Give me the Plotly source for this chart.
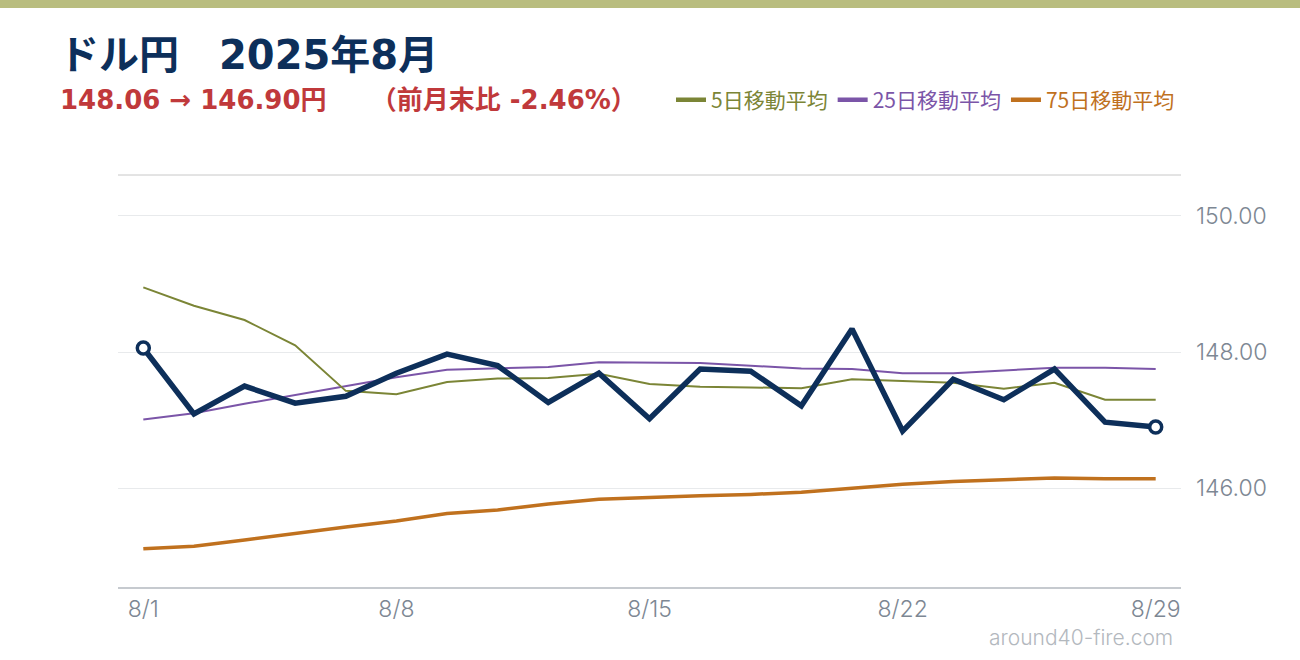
import plotly.graph_objects as go

dates = ["8/1", "8/4", "8/5", "8/6", "8/7", "8/8", "8/11", "8/12", "8/13", "8/14", "8/15",
         "8/18", "8/19", "8/20", "8/21", "8/22", "8/25", "8/26", "8/27", "8/28", "8/29"]
close = [148.06, 147.09, 147.50, 147.25, 147.35, 147.69, 147.97, 147.80, 147.26, 147.69, 147.02,
         147.75, 147.72, 147.21, 148.34, 146.84, 147.60, 147.30, 147.75, 146.97, 146.90]
ma5 = [148.95, 148.68, 148.47, 148.10, 147.43, 147.38, 147.56, 147.61, 147.62, 147.68, 147.53,
       147.49, 147.48, 147.47, 147.60, 147.57, 147.55, 147.46, 147.55, 147.30, 147.30]
ma25 = [147.01, 147.10, 147.24, 147.37, 147.51, 147.63, 147.74, 147.76, 147.78, 147.85, 147.84,
        147.84, 147.80, 147.76, 147.75, 147.69, 147.69, 147.73, 147.77, 147.77, 147.75]
ma75 = [145.11, 145.15, 145.24, 145.34, 145.43, 145.52, 145.63, 145.68, 145.77, 145.84, 145.87,
        145.89, 145.91, 145.94, 146.00, 146.06, 146.10, 146.12, 146.15, 146.14, 146.14]
x_ticks = ["8/1", "8/8", "8/15", "8/22", "8/29"]
y_ticks = [146, 148, 150]
ma_names = ["5日移動平均", "25日移動平均", "75日移動平均"]

title_text = "ドル円　2025年8月"
sub_text = "148.06 → 146.90円\u3000\u2002\u2009（前月末比 -2.46%）"
watermark = "around40-fire.com"

NAVY = "#0d2f5a"
OLIVE = "#7b8536"
PURPLE = "#7b55a8"
ORANGE = "#c0711e"
CJK = "Noto Sans CJK JP"
WIDE = "DejaVu Sans, Noto Sans CJK JP"
THIN = "Inter, Noto Sans CJK JP"

fig = go.Figure()
fig.add_trace(go.Scatter(x=dates, y=ma75, mode="lines", showlegend=False,
                         line=dict(color=ORANGE, width=3.5)))
fig.add_trace(go.Scatter(x=dates, y=ma25, mode="lines", showlegend=False,
                         line=dict(color=PURPLE, width=2)))
fig.add_trace(go.Scatter(x=dates, y=ma5, mode="lines", showlegend=False,
                         line=dict(color=OLIVE, width=2)))
fig.add_trace(go.Scatter(x=dates, y=close, mode="lines", showlegend=False,
                         line=dict(color=NAVY, width=5.5)))
fig.add_trace(go.Scatter(x=[dates[0], dates[-1]], y=[close[0], close[-1]], mode="markers",
                         showlegend=False,
                         marker=dict(size=12, color="white", line=dict(color=NAVY, width=3.5))))
# legend entries (coloured text, thick swatches)
for name, col in zip(ma_names, [OLIVE, PURPLE, ORANGE]):
    fig.add_trace(go.Scatter(x=[None], y=[None], mode="lines",
                             name=f"<span style='color:{col}'>{name}</span>",
                             line=dict(color=col, width=4.5)))

ml, mr, mt, mb = 118, 119, 175, 73
pw = 1300 - ml - mr
ph = 660 - mt - mb

fig.update_layout(
    width=1300, height=660,
    margin=dict(l=ml, r=mr, t=mt, b=mb),
    paper_bgcolor="white", plot_bgcolor="white",
    font=dict(family=CJK, color="#7d8793"),
    showlegend=True,
    legend=dict(orientation="h", x=(1180 - ml) / pw, xanchor="right",
                y=1 + (175 - 100) / ph, yanchor="middle",
                font=dict(size=21, family=CJK), itemwidth=30,
                bgcolor="rgba(0,0,0,0)"),
    xaxis=dict(type="category", range=[-0.5, 20.5], tickmode="array", tickvals=x_ticks,
               ticktext=x_ticks, showgrid=False, showline=True, linecolor="#c6cacf",
               linewidth=2, ticks="", tickfont=dict(size=23, color="#7d8793", family=THIN, weight=300),
               zeroline=False),
    yaxis=dict(side="right", range=[144.55, 150.6], tickmode="array", tickvals=y_ticks,
               tickformat=".2f", showgrid=True, gridcolor="#e8eaec", gridwidth=1,
               zeroline=False, showline=False, ticks="",
               tickfont=dict(size=23, color="#7d8793", family=THIN, weight=300),
               ticklabelstandoff=14),
)

# top band
fig.add_shape(type="rect", xref="paper", yref="paper", x0=-0.2, x1=1.2,
              y0=1 + (175 - 8) / ph, y1=1 + 175 / ph + 0.01,
              fillcolor="#b9bd7f", line=dict(width=0), layer="below")
# top border of the plot area
fig.add_shape(type="line", xref="paper", yref="paper", x0=0, x1=1, y0=1, y1=1,
              line=dict(color="#c8c8c8", width=1))

fig.add_annotation(text=title_text, xref="paper", yref="paper",
                   x=(57 - ml) / pw, xanchor="left",
                   y=1 + (175 - 55) / ph, yanchor="middle", showarrow=False,
                   font=dict(size=40, color=NAVY, family=WIDE, weight="bold"))
fig.add_annotation(text=sub_text, xref="paper", yref="paper",
                   x=(58 - ml) / pw, xanchor="left",
                   y=1 + (175 - 100) / ph, yanchor="middle", showarrow=False,
                   font=dict(size=26, color="#c0393b", family=WIDE, weight="bold"))
fig.add_annotation(text=watermark, xref="paper", yref="paper",
                   x=(1175 - ml) / pw, xanchor="right",
                   y=-(637 - 587) / ph, yanchor="middle", showarrow=False,
                   font=dict(size=21, color="#b3b8be", family=THIN, weight=300))

fig.write_html("out.html", config={"displayModeBar": False},
               post_script="document.body.style.margin='0';")
